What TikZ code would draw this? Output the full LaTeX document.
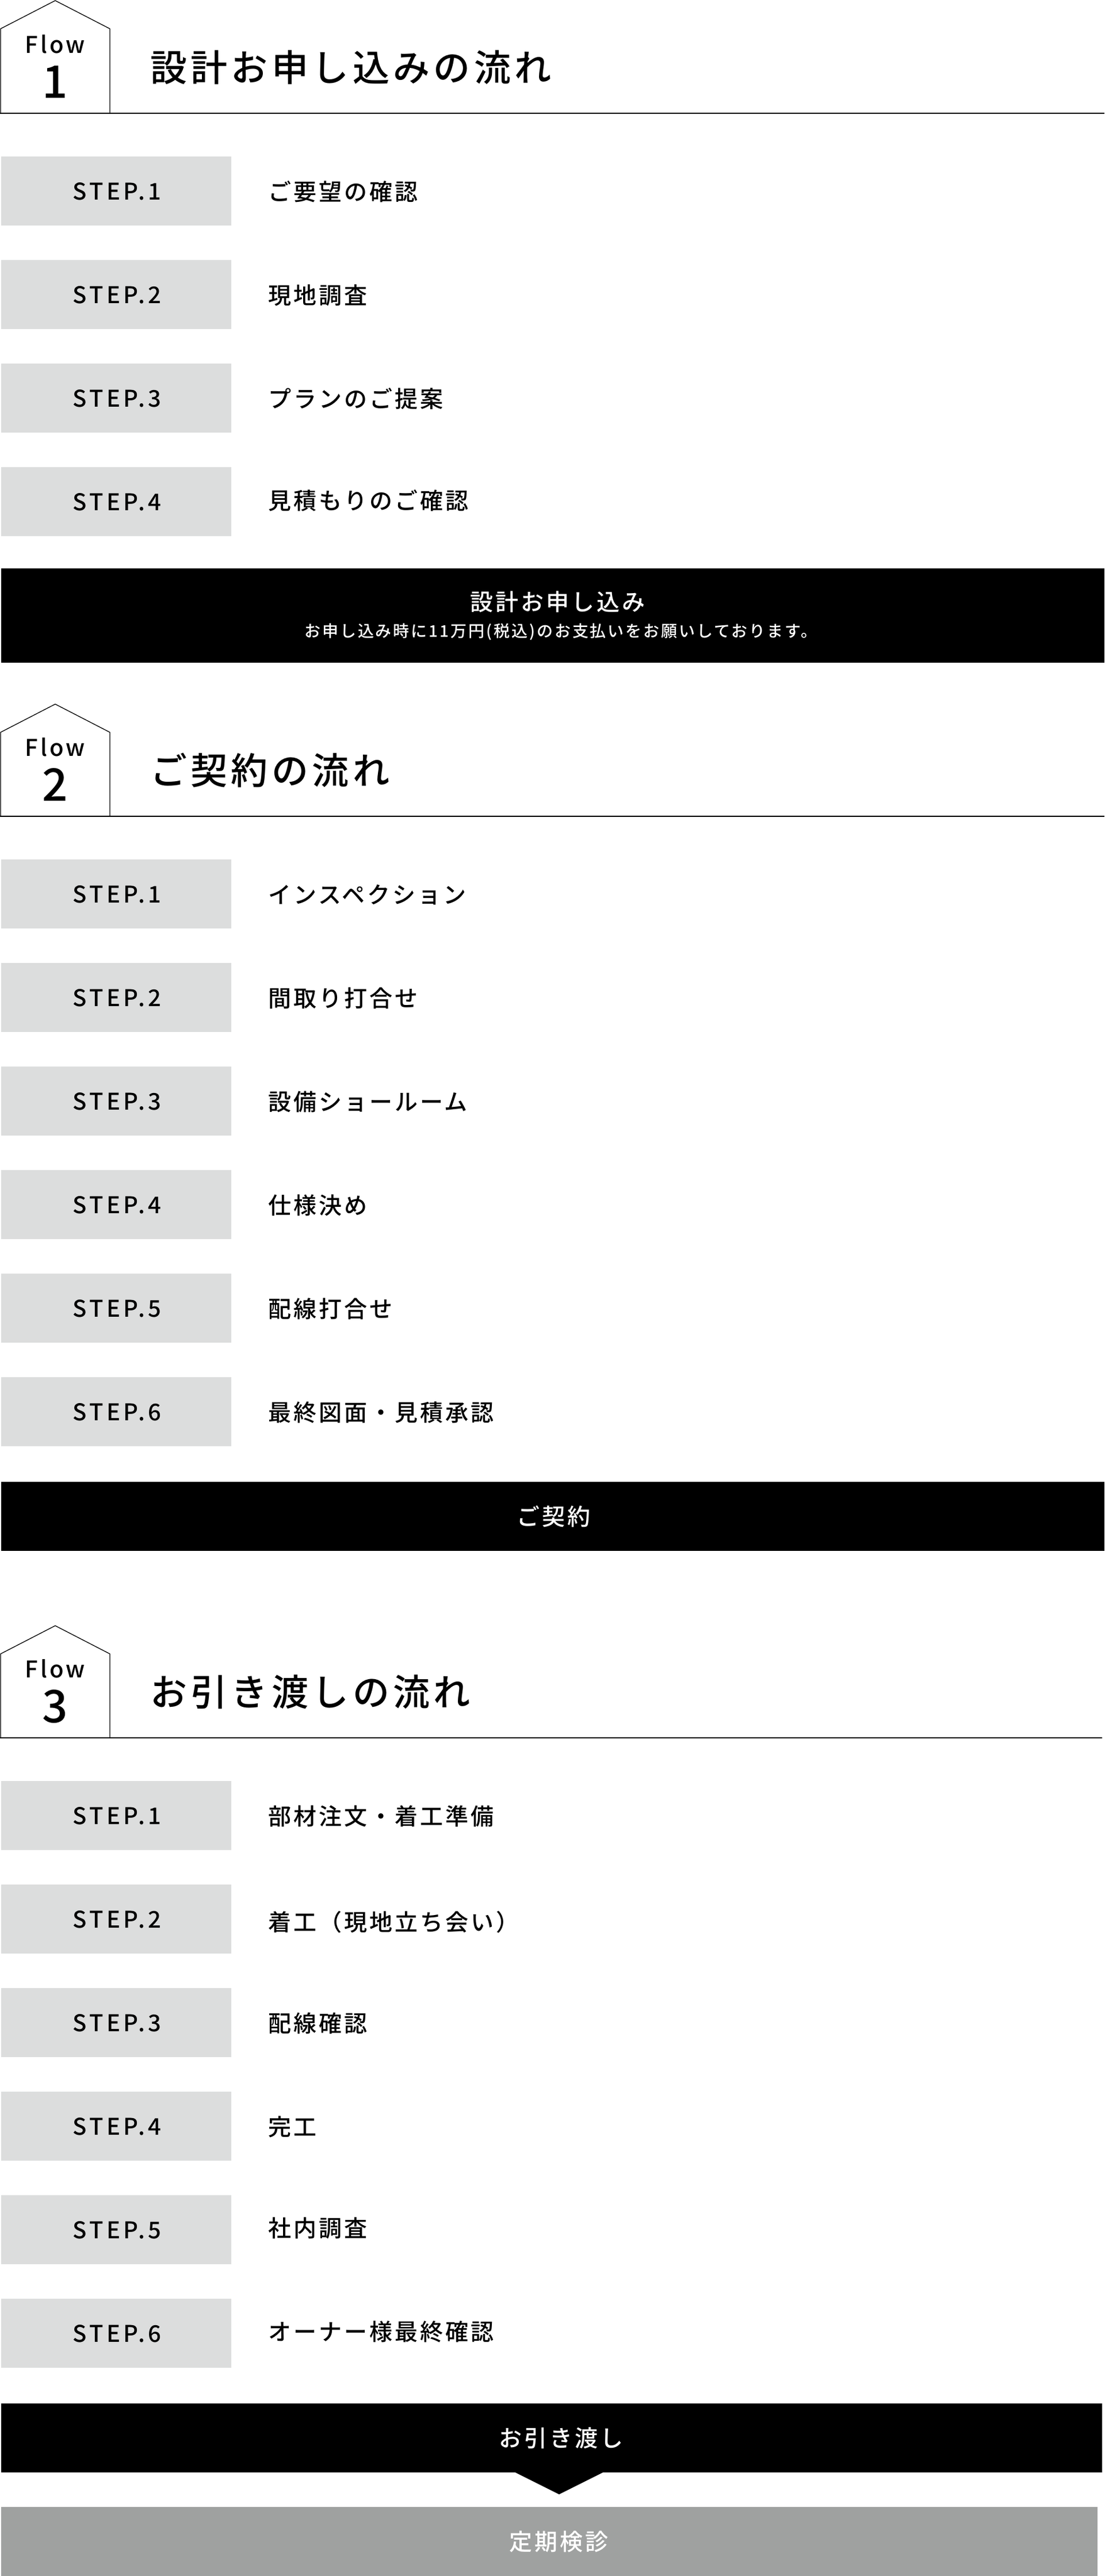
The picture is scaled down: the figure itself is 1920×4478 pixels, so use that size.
\documentclass[tikz,border=0pt]{standalone}
\usepackage{fontspec}
\setmainfont{Noto Sans CJK JP}[UprightFont=* Medium, LetterSpace=10]
\usetikzlibrary{positioning}
\definecolor{stepgray}{HTML}{DCDDDD}
\definecolor{checkgray}{HTML}{9FA1A0}

\begin{document}
\begin{tikzpicture}[
    x=1pt, y=-1pt,
    node distance=60pt,
    house/.style={draw=black, line width=1.3pt, line join=miter},
    rule/.style={draw=black, line width=2.3pt},
    flowname/.style={inner sep=0pt, font=\fontsize{40}{48}\selectfont, text height=29.3pt, text depth=0pt},
    flownum/.style={inner sep=0pt, font=\fontsize{78}{90}\selectfont, text height=57.2pt, text depth=0pt},
    headline/.style={anchor=west, inner sep=0pt, font=\fontsize{64}{76}\selectfont, text height=48.6pt, text depth=0pt},
    stepbox/.style={rectangle, fill=stepgray, minimum width=400pt, minimum height=120pt, inner sep=0pt, outer sep=0pt, font=\fontsize{40}{48}\selectfont\addfontfeature{LetterSpace=13}, text height=31.3pt, text depth=0pt, execute at begin node=\hspace{3pt}},
    steptext/.style={inner sep=0pt, outer sep=0pt, font=\fontsize{40}{48}\selectfont, text height=33.7pt, text depth=0pt},
    bar/.style={rectangle, fill=black, minimum height=120pt, inner sep=0pt, outer sep=0pt},
    bartext/.style={inner sep=0pt, text=white, font=\fontsize{40}{48}\selectfont, text height=29.3pt, text depth=0pt}
]
    \useasboundingbox (0,0) rectangle (1920,4478);

    % Flow 1
    \draw[house] (1,197) -- (1,50) -- (96,1) -- (191,50) -- (191,197);
    \draw[rule] (0,197) -- (1920,197);
    \node[flowname] (f1) at (96,78) {Flow};
    \node[flownum] (f1n) at (96,142) {1};
    \node[headline] (h1) at (261,117) {設計お申し込みの流れ};
    \node[stepbox] (s11) at (202,332) {STEP.1};
    \node[stepbox, below=of s11] (s12) {STEP.2};
    \node[stepbox, below=of s12] (s13) {STEP.3};
    \node[stepbox, below=of s13] (s14) {STEP.4};
    \node[steptext, right=64pt of s11] (t11) {ご要望の確認};
    \node[steptext, right=64pt of s12] (t12) {現地調査};
    \node[steptext, right=64pt of s13] (t13) {プランのご提案};
    \node[steptext, right=64pt of s14, yshift=3.7pt] (t14) {見積もりのご確認};
    \node[bar, minimum width=1918pt, minimum height=164pt] (b1) at (961,1070) {};
    \node[bartext] (b1t) at (969,1046.5) {設計お申し込み};
    \node[inner sep=0pt, text=white, font=\fontsize{28}{34}\selectfont\addfontfeature{LetterSpace=10.5}, text height=20.5pt, text depth=0pt] (b1s) at (975,1097) {お申し込み時に11万円(税込)のお支払いをお願いしております。};

    % Flow 2
    \draw[house] (1,1419) -- (1,1273) -- (96,1224) -- (191,1273) -- (191,1419);
    \draw[rule] (0,1419) -- (1920,1419);
    \node[flowname] (f2) at (96,1300) {Flow};
    \node[flownum] (f2n) at (96,1363.5) {2};
    \node[headline] (h2) at (261,1339) {ご契約の流れ};
    \node[stepbox] (s21) at (202,1554) {STEP.1};
    \node[stepbox, below=of s21] (s22) {STEP.2};
    \node[stepbox, below=of s22] (s23) {STEP.3};
    \node[stepbox, below=of s23] (s24) {STEP.4};
    \node[stepbox, below=of s24] (s25) {STEP.5};
    \node[stepbox, below=of s25] (s26) {STEP.6};
    \node[steptext, right=64pt of s21] (t21) {インスペクション};
    \node[steptext, right=64pt of s22] (t22) {間取り打合せ};
    \node[steptext, right=64pt of s23] (t23) {設備ショールーム};
    \node[steptext, right=64pt of s24] (t24) {仕様決め};
    \node[steptext, right=64pt of s25] (t25) {配線打合せ};
    \node[steptext, right=64pt of s26] (t26) {最終図面・見積承認};
    \node[bar, minimum width=1918pt] (b2) at (961,2636) {};
    \node[bartext] (b2t) at (962,2636.5) {ご契約};

    % Flow 3
    \draw[house] (1,3020) -- (1,2875) -- (96,2826) -- (191,2875) -- (191,3020);
    \draw[rule] (0,3021) -- (1916,3021);
    \node[flowname] (f3) at (96,2902) {Flow};
    \node[flownum] (f3n) at (96,2966) {3};
    \node[headline] (h3) at (261,2941) {お引き渡しの流れ};
    \node[stepbox] (s31) at (202,3156) {STEP.1};
    \node[stepbox, below=of s31] (s32) {STEP.2};
    \node[stepbox, below=of s32] (s33) {STEP.3};
    \node[stepbox, below=of s33] (s34) {STEP.4};
    \node[stepbox, below=of s34] (s35) {STEP.5};
    \node[stepbox, below=of s35] (s36) {STEP.6};
    \node[steptext, right=64pt of s31] (t31) {部材注文・着工準備};
    \node[steptext, right=64pt of s32, yshift=-3.3pt] (t32) {着工（現地立ち会い）};
    \node[steptext, right=64pt of s33] (t33) {配線確認};
    \node[steptext, right=64pt of s34] (t34) {完工};
    \node[steptext, right=64pt of s35, yshift=4.1pt] (t35) {社内調査};
    \node[steptext, right=64pt of s36, yshift=4.2pt] (t36) {オーナー様最終確認};
    \node[bar, minimum width=1914pt] (b3) at (959,4238) {};
    \node[bartext] (b3t) at (975,4238.5) {お引き渡し};
    \fill[black] (894,4297) -- (1050,4297) -- (972,4336) -- cycle;
    \node[bar, fill=checkgray, minimum width=1906pt] (b4) at (955,4418) {};
    \node[bartext] (b4t) at (971,4418.5) {定期検診};
\end{tikzpicture}
\end{document}
